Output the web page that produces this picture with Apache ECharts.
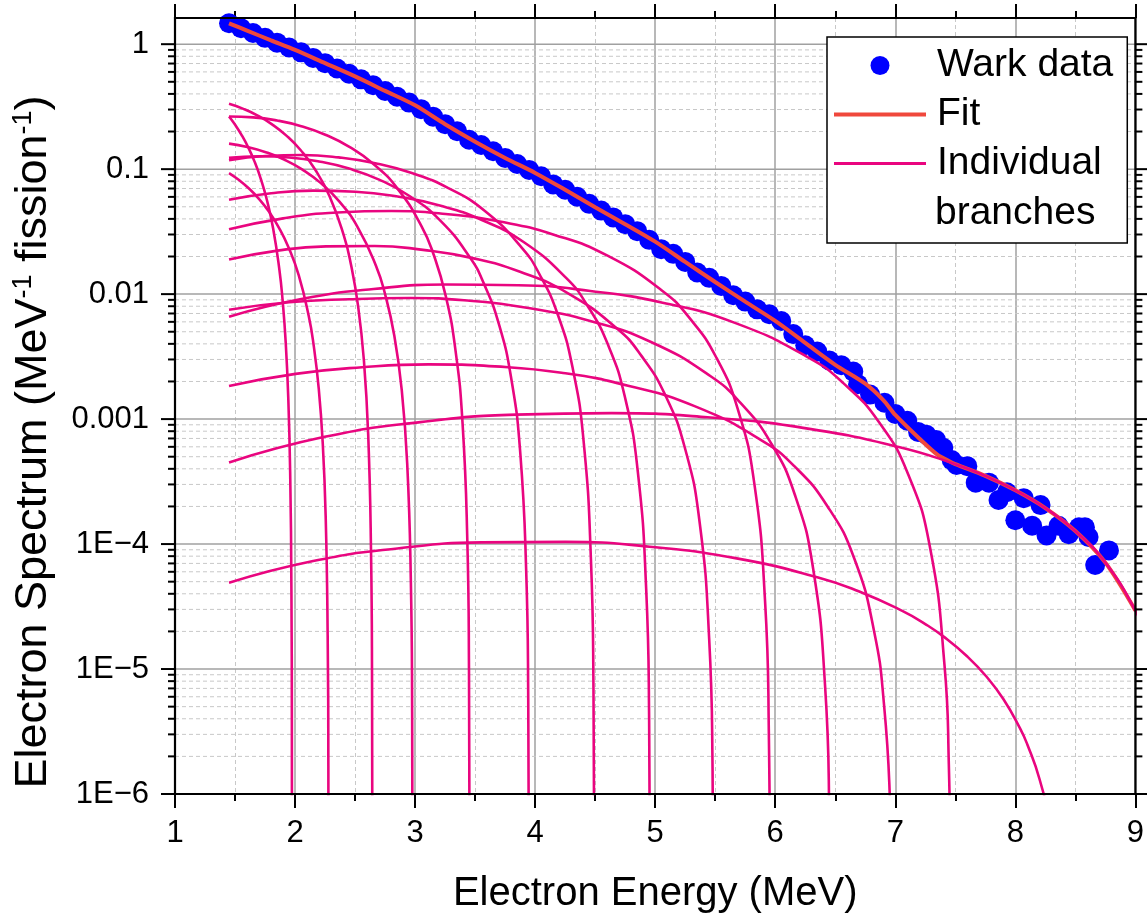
<!DOCTYPE html>
<html>
<head>
<meta charset="utf-8">
<script src="https://cdn.jsdelivr.net/npm/echarts@6/dist/echarts.min.js"></script>
<style>html,body{margin:0;padding:0;background:#fff}#c{width:1147px;height:919px}</style>
</head>
<body>
<div id="c"></div>
<script>
// ---------------- data ----------------
const xTickValues = [1, 2, 3, 4, 5, 6, 7, 8, 9];
const xTickLabels = ['1', '2', '3', '4', '5', '6', '7', '8', '9'];
const yTickValues = [1e-6, 1e-5, 1e-4, 1e-3, 1e-2, 1e-1, 1];
const yTickLabels = ['1E\u22126', '1E\u22125', '1E\u22124', '0.001', '0.01', '0.1', '1'];
const yMinorFactors = [2, 3, 4, 5, 6, 7, 8, 9];

// Wark data (energy MeV, spectrum)
const warkE = [1.45,1.55,1.65,1.75,1.85,1.95,2.05,2.15,2.25,2.35,2.45,2.55,2.65,2.75,2.85,2.95,3.05,3.15,3.25,3.35,3.45,3.55,3.65,3.75,3.85,3.95,4.05,4.15,4.25,4.35,4.45,4.55,4.65,4.75,4.85,4.95,5.05,5.15,5.25,5.35,5.45,5.55,5.65,5.75,5.85,5.95,6.05,6.15,6.25,6.35,6.45,6.55,6.65,
  6.69,6.79,6.91,7.0,7.1,7.19,7.26,7.34,7.4,7.47,7.51,7.6,7.67,7.78,7.86,7.93,8.0,8.07,8.14,8.21,8.26,8.36,8.445,8.53,8.58,8.61,8.665,8.78];
const warkV = [1.47,1.343,1.229,1.124,1.028,0.94,0.86,0.777,0.705,0.639,0.58,0.523,0.47,0.423,0.38,0.341,0.302,0.263,0.229,0.201,0.172,0.156,0.139,0.123,0.11,0.0986,0.0877,0.0755,0.0684,0.0601,0.0528,0.0466,0.0411,0.0363,0.0319,0.0272,0.0229,0.021,0.0181,0.0149,0.0135,0.01164,0.0098,0.00871,0.00755,0.0069,0.0061,0.00479,0.0039,0.00347,0.00295,0.0027,0.0024,
  0.0019,0.00157,0.00135,0.0011,0.00097,0.00079,0.00075,0.00068,0.00059,0.00047,0.00043,0.00042,0.00031,0.00031,0.000225,0.00026,0.000155,0.000233,0.00014,0.000205,0.000117,0.00014,0.00012,0.000136,0.000136,0.000114,0.000068,0.000089];

// Fit
const fitE = [1.45,1.6,1.8,2.0,2.25,2.5,2.75,3.0,3.25,3.5,3.75,4.0,4.25,4.5,4.75,5.0,5.25,5.5,5.75,6.0,6.25,6.5,6.75,6.9,7.0,7.2,7.35,7.45,7.5,7.75,8.0,8.25,8.5,8.75,9.0];
const fitV = [1.47,1.284,1.073,0.90,0.705,0.552,0.423,0.324,0.229,0.166,0.123,0.0933,0.0684,0.0495,0.0363,0.0263,0.0181,0.0125,0.0087,0.0061,0.00407,0.00272,0.00192,0.00142,0.00108,0.0007,0.00052,0.00046,0.000436,0.000351,0.000269,0.000194,0.000127,0.000071,0.0000294];

// Individual branches: [energy, spectrum]
const branch1 = [[1.45,0.264],[1.5025,0.2255],[1.555,0.1875],[1.6075,0.151],[1.66,0.1165],[1.7125,0.0849],[1.765,0.0569],[1.8175,0.0335],[1.87,0.01557],[1.8963,0.00895],[1.9225,0.00407],[1.9435,0.00149],[1.9593,0.000377],[1.9698,4.22e-5],[1.9734,3.8e-6],[1.9747,1.1e-7]];
const branch2 = [[1.45,0.093],[1.533,0.0818],[1.616,0.07],[1.699,0.0579],[1.782,0.0458],[1.865,0.0341],[1.948,0.0234],[2.031,0.0141],[2.114,0.00667],[2.1555,0.00387],[2.197,0.00177],[2.2302,0.000654],[2.2551,0.000167],[2.2717,1.87e-5],[2.2775,1.68e-6],[2.2796,4.7e-8]];
const branch3 = [[1.45,0.333],[1.5695,0.3036],[1.689,0.2682],[1.8085,0.2283],[1.928,0.1854],[2.0475,0.1417],[2.167,0.0994],[2.2865,0.061],[2.406,0.0295],[2.4658,0.01726],[2.5255,0.00798],[2.5733,0.00297],[2.6092,0.000758],[2.633,8.56e-5],[2.6414,7.7e-6],[2.6444,2.1e-7]];
const branch4 = [[1.45,0.16],[1.603,0.1506],[1.756,0.1368],[1.909,0.1194],[2.062,0.0992],[2.215,0.0773],[2.368,0.0552],[2.521,0.0344],[2.674,0.01688],[2.7505,0.00996],[2.827,0.00464],[2.8882,0.00173],[2.9341,0.000444],[2.9647,5.02e-5],[2.9754,4.5e-6],[2.9792,1.3e-7]];
const branch5 = [[1.45,0.264],[1.6505,0.2598],[1.851,0.2451],[2.0515,0.2209],[2.252,0.1887],[2.4525,0.1507],[2.653,0.11],[2.8535,0.0699],[3.054,0.0349],[3.1543,0.02075],[3.2545,0.00973],[3.3347,0.00366],[3.3949,0.000942],[3.435,0.000107],[3.449,9.7e-6],[3.454,2.7e-7]];
const branch6 = [[1.45,0.123],[1.7,0.1267],[1.95,0.124],[2.2,0.1152],[2.45,0.101],[2.7,0.0825],[2.95,0.0613],[3.2,0.0396],[3.45,0.0201],[3.575,0.01202],[3.7,0.00567],[3.8,0.00214],[3.875,0.000554],[3.925,6.3e-5],[3.9425,5.7e-6],[3.9488,1.6e-7]];
const branch7 = [[1.45,0.118],[1.7545,0.1276],[2.059,0.1297],[2.3635,0.1242],[2.668,0.1116],[2.9725,0.0931],[3.277,0.0705],[3.5815,0.0463],[3.886,0.0237],[4.0383,0.01429],[4.1905,0.00678],[4.3123,0.00257],[4.4037,0.000667],[4.4646,7.6e-5],[4.4859,6.9e-6],[4.4935,1.9e-7]];
const branch8 = [[1.45,0.057],[1.801,0.0642],[2.152,0.0673],[2.503,0.066],[2.854,0.0604],[3.205,0.0512],[3.556,0.0392],[3.907,0.026],[4.258,0.01348],[4.4335,0.00815],[4.609,0.00389],[4.7494,0.00148],[4.8547,0.000384],[4.9249,4.38e-5],[4.9495,3.98e-6],[4.9582,1.1e-7]];
const branch9 = [[1.45,0.0189],[1.854,0.0223],[2.258,0.0241],[2.662,0.0243],[3.066,0.0226],[3.47,0.0195],[3.874,0.0151],[4.278,0.0101],[4.682,0.0053],[4.884,0.00322],[5.086,0.00154],[5.2476,0.000587],[5.3688,0.000153],[5.4496,1.75e-5],[5.4779,1.59e-6],[5.488,4.4e-8]];
const branch10 = [[1.45,0.033],[1.901,0.0404],[2.352,0.045],[2.803,0.0462],[3.254,0.0438],[3.705,0.0381],[4.156,0.0299],[4.607,0.0202],[5.058,0.01065],[5.2835,0.00648],[5.509,0.00311],[5.6894,0.00119],[5.8247,0.00031],[5.9149,3.54e-5],[5.9465,3.2e-6],[5.9577,9e-8]];
const branch11 = [[1.45,0.0075],[1.9515,0.0086],[2.453,0.0091],[2.9545,0.0093],[3.456,0.00884],[3.9575,0.0077],[4.459,0.0061],[4.9605,0.00416],[5.462,0.0022],[5.7128,0.00134],[5.9635,0.000646],[6.1641,0.000247],[6.3146,6.46e-5],[6.4149,7.4e-6],[6.45,6.7e-7],[6.4625,2e-8]];
const branch12 = [[1.45,0.00184],[2.004,0.0023],[2.558,0.0026],[3.112,0.00274],[3.666,0.00264],[4.22,0.00235],[4.774,0.00185],[5.328,0.00127],[5.882,0.00068],[6.159,0.00042],[6.436,0.0002],[6.6576,7.7e-5],[6.8238,2.0e-5],[6.9069,5.1e-6],[6.9568,8.4e-7],[6.9789,9.3e-8]];
const branch13 = [[1.45,0.0066],[2.052,0.00913],[2.654,0.011],[3.256,0.01193],[3.858,0.01179],[4.46,0.0106],[5.062,0.00853],[5.664,0.00589],[6.266,0.00315],[6.567,0.00194],[6.868,0.000934],[7.1088,0.000359],[7.2894,9.4e-5],[7.4098,1.08e-5],[7.4459,1.74e-6],[7.464,1.09e-7]];
const branch14 = [[1.45,4.9e-5],[2.151,7.31e-5],[2.852,9.22e-5],[3.553,1.031e-4],[4.254,1.042e-4],[4.955,9.52e-5],[5.656,7.75e-5],[6.357,5.41e-5],[6.7,4.17e-5],[7.058,2.92e-5],[7.25,2.29e-5],[7.4085,1.8e-5],[7.6,1.26e-5],[7.759,8.71e-6],[7.9,5.75e-6],[8.0394,3.35e-6],[8.1,2.49e-6],[8.2,1.33e-6],[8.3,5.15e-7],[8.39,1.0e-7]];
const branch15 = [[1.45,0.00045],[2.247,0.000721],[3.044,0.000946],[3.841,0.001086],[4.638,0.001117],[5.435,0.001034],[6.232,0.000851],[7.029,0.000599],[7.5,0.000436],[7.75,0.000351],[8.0,0.000269],[8.25,0.000194],[8.5,0.000127],[8.75,7.1e-5],[9.0,2.94e-5],[9.1,1.74e-5]];
const branches = [branch1,branch2,branch3,branch4,branch5,branch6,branch7,branch8,branch9,branch10,branch11,branch12,branch13,branch14,branch15];

// ---------------- chart ----------------
const FONT = '"Liberation Sans", Arial, Helvetica, sans-serif';
const BLUE = '#0000ff', RED = '#f0483c', MAGENTA = '#e9057f';
const chart = echarts.init(document.getElementById('c'), null, {renderer: 'canvas'});

const yMinorValues = [];
yTickValues.slice(0, -1).forEach(d => yMinorFactors.forEach(f => yMinorValues.push(d * f)));

function yLabel(v) {
  for (let i = 0; i < yTickValues.length; i++) {
    if (Math.abs(Math.log10(v) - Math.log10(yTickValues[i])) < 1e-6) return yTickLabels[i];
  }
  return '';
}
function xLabel(v) {
  const i = xTickValues.indexOf(Math.round(v * 1000) / 1000);
  return i >= 0 ? xTickLabels[i] : '';
}

const gridData = yTickValues.map(v => [1, v, 1]).concat(yMinorValues.map(v => [1, v, 0]));
const tickData = yTickValues.map(v => [1, v, 14]).concat(yMinorValues.map(v => [1, v, 7]));

const series = [
  {
    type: 'custom', silent: true, z: 1, clip: false,
    renderItem: function (params, api) {
      const y = api.coord([1, api.value(1)])[1];
      const cs = params.coordSys;
      const major = api.value(2) === 1;
      return {type: 'line', shape: {x1: cs.x, y1: y, x2: cs.x + cs.width, y2: y},
        style: major ? {stroke: '#a0a0a0', lineWidth: 1.5} : {stroke: '#c8c8c8', lineWidth: 1, lineDash: [4, 3]}};
    },
    data: gridData
  },
  {
    name: 'Wark data', type: 'scatter', z: 2, symbol: 'circle', symbolSize: 20,
    itemStyle: {color: BLUE, opacity: 1},
    data: warkE.map((e, i) => [e, warkV[i]])
  },
  {
    name: 'Fit', type: 'line', z: 3, symbol: 'none', showSymbol: false, smooth: 0.3,
    lineStyle: {color: RED, width: 4}, itemStyle: {color: RED},
    data: fitE.map((e, i) => [e, fitV[i]])
  }
];
branches.forEach(b => series.push({
  name: 'Individual branches', type: 'line', z: 4, symbol: 'none', showSymbol: false,
  smooth: 0.5, clip: true,
  lineStyle: {color: MAGENTA, width: 2.6}, itemStyle: {color: MAGENTA},
  data: b
}));
series.push({
  type: 'custom', silent: true, z: 10, clip: false,
  renderItem: function (params, api) {
    const y = api.coord([1, api.value(1)])[1];
    const len = api.value(2);
    const cs = params.coordSys;
    return {type: 'group', children: [
      {type: 'line', shape: {x1: cs.x - len, y1: y, x2: cs.x, y2: y}, style: {stroke: '#000', lineWidth: 2}},
      {type: 'line', shape: {x1: cs.x + cs.width, y1: y, x2: cs.x + cs.width + len, y2: y}, style: {stroke: '#000', lineWidth: 2}}
    ]};
  },
  data: tickData
});
series.push({
  type: 'custom', silent: true, z: 11, clip: false,
  renderItem: function (params, api) {
    const cs = params.coordSys;
    return {type: 'rect', shape: {x: cs.x, y: cs.y, width: cs.width, height: cs.height},
      style: {stroke: '#000', lineWidth: 2.2, fill: null}};
  },
  data: [[1, 1]]
});

const hiddenMarker = {opacity: 0, color: 'rgba(0,0,0,0)', borderWidth: 0};
const option = {
  animation: false,
  backgroundColor: '#fff',
  grid: {left: 175, right: 7, top: 18, bottom: 122, containLabel: false},
  legend: {
    orient: 'vertical', left: 827, top: 37,
    itemWidth: 92, itemHeight: 19, itemGap: 10,
    padding: [9, 14, 60, 5],
    borderColor: '#000', borderWidth: 1.5, backgroundColor: '#fff',
    selectedMode: false,
    textStyle: {fontSize: 39, fontFamily: FONT, color: '#000', padding: [0, 0, 0, 6]},
    data: [
      {name: 'Wark data'},
      {name: 'Fit', itemStyle: hiddenMarker, lineStyle: {color: RED, width: 4}},
      {name: 'Individual branches', itemStyle: hiddenMarker, lineStyle: {color: MAGENTA, width: 3}}
    ],
    formatter: function (n) { return n === 'Individual branches' ? 'Individual' : n; }
  },
  graphic: [{
    type: 'text', x: 935, y: 213, z: 100,
    style: {text: 'branches', fontSize: 39, fontFamily: FONT, fill: '#000', verticalAlign: 'middle', align: 'left'}
  }],
  xAxis: [{
    type: 'value', min: 1, max: 9, interval: 1, position: 'bottom',
    name: 'Electron Energy (MeV)', nameLocation: 'middle', nameGap: 80,
    nameTextStyle: {fontSize: 40, fontFamily: FONT, color: '#000'},
    axisLine: {show: true, lineStyle: {color: '#000', width: 2}},
    axisTick: {show: true, inside: false, length: 14, lineStyle: {color: '#000', width: 2}},
    minorTick: {show: true, splitNumber: 2, length: 7, lineStyle: {color: '#000', width: 2}},
    axisLabel: {margin: 24, fontSize: 31, fontFamily: FONT, color: '#000', formatter: xLabel},
    splitLine: {show: true, lineStyle: {color: '#a0a0a0', width: 1.5}},
    minorSplitLine: {show: true, lineStyle: {color: '#c8c8c8', width: 1, type: [4, 3]}}
  }, {
    type: 'value', min: 1, max: 9, interval: 1, position: 'top',
    axisLine: {show: true, lineStyle: {color: '#000', width: 2}},
    axisTick: {show: true, inside: false, length: 14, lineStyle: {color: '#000', width: 2}},
    minorTick: {show: true, splitNumber: 2, length: 7, lineStyle: {color: '#000', width: 2}},
    axisLabel: {show: false}, splitLine: {show: false}
  }],
  yAxis: [{
    type: 'log', logBase: 10, min: 1e-6, max: 1.62, position: 'left',
    name: 'Electron Spectrum (MeV{sup|-1} fission{sup|-1})', nameLocation: 'middle', nameGap: 117,
    nameTextStyle: {fontSize: 45, fontFamily: FONT, color: '#000', lineHeight: 48, padding: [0, 72, 0, 0],
      rich: {sup: {fontSize: 27, fontFamily: FONT, color: '#000', verticalAlign: 'top', lineHeight: 27}}},
    axisLine: {show: true, lineStyle: {color: '#000', width: 2}},
    axisTick: {show: false}, minorTick: {show: false},
    axisLabel: {margin: 26, fontSize: 31, fontFamily: FONT, color: '#000', formatter: yLabel},
    splitLine: {show: false}
  }],
  series: series
};
chart.setOption(option);
</script>
</body>
</html>
